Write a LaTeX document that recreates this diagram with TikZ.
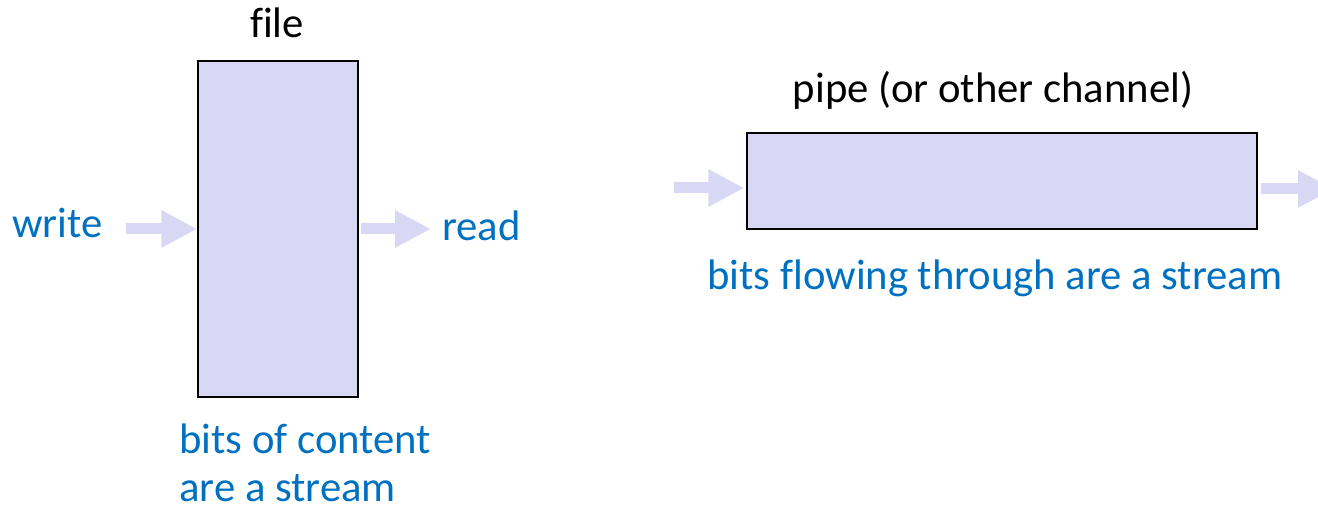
\documentclass[tikz,border=0pt]{standalone}
\usepackage{fontspec}
\setmainfont[Ligatures=NoCommon]{Carlito}
\usetikzlibrary{arrows.meta}
\definecolor{boxfill}{RGB}{216,216,244}
\definecolor{textblue}{RGB}{0,112,192}

\begin{document}
\begin{tikzpicture}[x=0.02cm,y=-0.02cm]
      \useasboundingbox (0,0) rectangle (1318,509);
      \tikzstyle{every node} = [inner sep = 0pt, font = \fontsize{24.3}{27.2}\selectfont]
      \tikzstyle{store} = [draw, fill = boxfill, line width = 0.8pt]
      \tikzstyle{flow} = [draw = boxfill, line width = 0.22cm, -{Triangle[length=0.72cm, width=0.7cm]}]
      \tikzstyle{note} = [text = textblue]

      \node[store, minimum width = 3.2cm, minimum height = 6.72cm](file) at (278,229) {};
      \node[store, minimum width = 10.2cm, minimum height = 1.92cm](pipe) at (1002,181) {};

      \node[anchor = base](filename) at (277,38) {file};
      \node[anchor = base](pipename) at (993,103) {pipe (or other channel)};
      \node[note, anchor = base west](write) at (12,238) {write};
      \node[note, anchor = base west](read) at (442,241) {read};
      \node[note, anchor = base west, align = left](filenote) at (179,501) {bits of content\\are a stream};
      \node[note, anchor = base](pipenote) at (995,290) {bits flowing through are a stream};

      \coordinate(writefrom) at (126,229);
      \coordinate(readto) at (431,229);
      \coordinate(pipefrom) at (674,188);
      \coordinate(pipeto) at (1334,189);

      \path[flow] (writefrom) -- (file.west);
      \path[flow, shorten <= 0.04cm] (file.east) -- (readto);
      \path[flow] (pipefrom) -- ([xshift=-0.04cm]pipefrom -| pipe.west);
      \path[flow, shorten <= 0.06cm] (pipeto -| pipe.east) -- (pipeto);
    \end{tikzpicture}
\end{document}
